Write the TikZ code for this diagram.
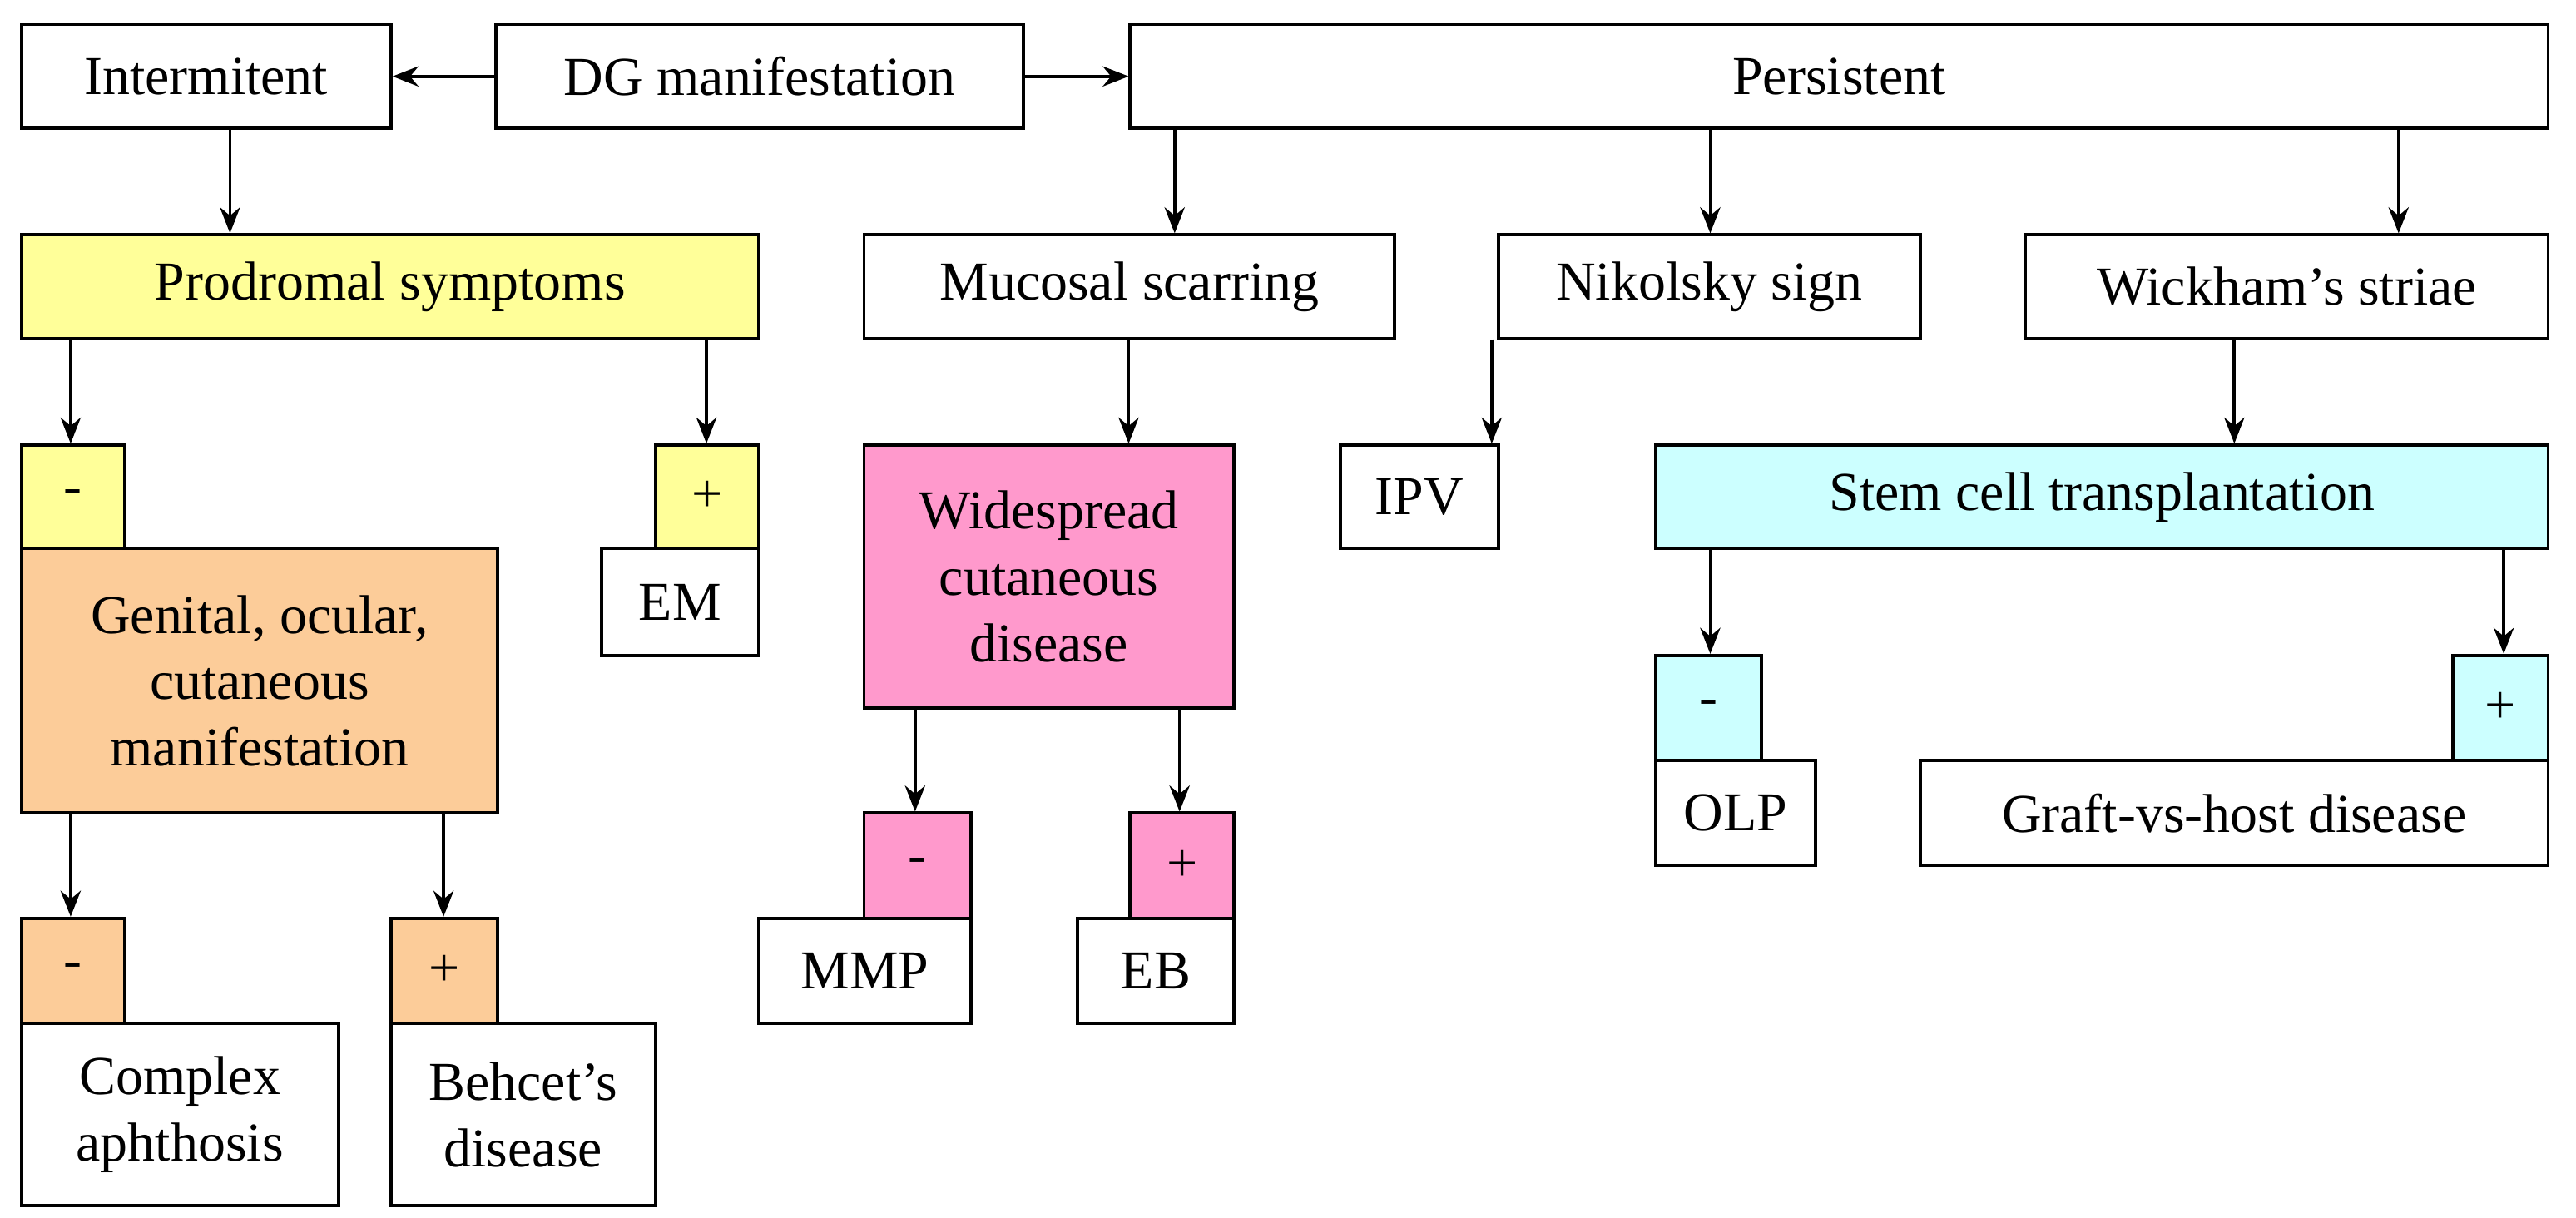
\documentclass[tikz,border=0pt]{standalone}
\usepackage{fontspec}
\setmainfont{Liberation Serif}
\usetikzlibrary{arrows.meta}
\definecolor{cy}{RGB}{255,255,153}
\definecolor{co}{RGB}{252,204,153}
\definecolor{cp}{RGB}{255,153,204}
\definecolor{cc}{RGB}{204,255,255}
\newcommand{\bx}[7]{\node[box,fill=#6,anchor=north west,minimum width={(#4-#2)*0.02cm},minimum height={(#5-#3)*0.02cm}] (#1) at (#2,#3) {#7};}
\begin{document}
\begin{tikzpicture}[x=0.02cm,y=-0.02cm,
 box/.style={draw,line width=1.1pt,inner sep=0pt,align=center,font=\fontsize{19}{23}\selectfont},
 arr/.style={line width=1.1pt,-{Stealth[length=9pt,width=7pt]}}]
\useasboundingbox (0,0) rectangle (1568,741);
\bx{im}{12}{14}{237}{77}{white}{Intermitent}
\bx{dg}{301}{14}{622}{77}{white}{DG manifestation}
\bx{pe}{687}{14}{1550}{77}{white}{Persistent}
\bx{pr}{12}{142}{461}{205}{cy}{Prodromal symptoms}
\bx{mu}{525}{142}{848}{205}{white}{Mucosal scarring}
\bx{ni}{911}{142}{1168}{205}{white}{Nikolsky sign}
\bx{wi}{1232}{142}{1550}{205}{white}{Wickham's striae}
\bx{prm}{12}{270}{75}{333}{cy}{-}
\bx{ge}{12}{333}{302}{494}{co}{Genital, ocular,\\cutaneous\\manifestation}
\bx{prp}{398}{270}{461}{333}{cy}{+}
\bx{em}{365}{333}{461}{398}{white}{EM}
\bx{ws}{525}{270}{750}{430}{cp}{Widespread\\cutaneous\\disease}
\bx{ipv}{815}{270}{911}{333}{white}{IPV}
\bx{sc}{1007}{270}{1550}{333}{cc}{Stem cell transplantation}
\bx{scm}{1007}{398}{1071}{462}{cc}{-}
\bx{olp}{1007}{462}{1104}{526}{white}{OLP}
\bx{scp}{1492}{398}{1550}{462}{cc}{+}
\bx{gv}{1168}{462}{1550}{526}{white}{Graft-vs-host disease}
\bx{wsm}{525}{494}{590}{558}{cp}{-}
\bx{mmp}{461}{558}{590}{622}{white}{MMP}
\bx{wsp}{687}{494}{750}{558}{cp}{+}
\bx{eb}{655}{558}{750}{622}{white}{EB}
\bx{gem}{12}{558}{75}{622}{co}{-}
\bx{ca}{12}{622}{205}{733}{white}{Complex\\aphthosis}
\bx{gep}{237}{558}{302}{622}{co}{+}
\bx{be}{237}{622}{398}{733}{white}{Behcet's\\disease}
\foreach \n/\v in {a/43,b/140,c/430,d/715,e/1041,f/1460,g/687,h/908,i/1360,j/1524,k/557,l/718,m/270}{\coordinate (x\n) at (\v,0);}
\draw[arr] (dg.west) -- (im.east);
\draw[arr] (dg.east) -- (pe.west);
\draw[arr] (im.south -| xb) -- (pr.north -| xb);
\draw[arr] (pe.south -| xd) -- (mu.north -| xd);
\draw[arr] (pe.south -| xe) -- (ni.north -| xe);
\draw[arr] (pe.south -| xf) -- (wi.north -| xf);
\draw[arr] (pr.south -| xa) -- (prm.north -| xa);
\draw[arr] (pr.south -| xc) -- (prp.north -| xc);
\draw[arr] (mu.south -| xg) -- (ws.north -| xg);
\draw[arr] (ni.south -| xh) -- (ipv.north -| xh);
\draw[arr] (wi.south -| xi) -- (sc.north -| xi);
\draw[arr] (sc.south -| xe) -- (scm.north -| xe);
\draw[arr] (sc.south -| xj) -- (scp.north -| xj);
\draw[arr] (ws.south -| xk) -- (wsm.north -| xk);
\draw[arr] (ws.south -| xl) -- (wsp.north -| xl);
\draw[arr] (ge.south -| xa) -- (gem.north -| xa);
\draw[arr] (ge.south -| xm) -- (gep.north -| xm);
\end{tikzpicture}
\end{document}
